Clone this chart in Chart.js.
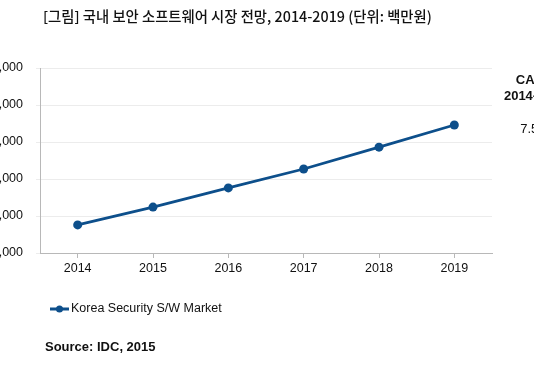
<!DOCTYPE html>
<html>
<head>
<meta charset="utf-8">
<script src="https://cdn.jsdelivr.net/npm/chart.js@4/dist/chart.umd.min.js"></script>
<style>
  html, body { margin: 0; padding: 0; background: #fff; }
  #wrap { width: 534px; height: 376px; position: relative; }
</style>
</head>
<body>
<div id="wrap"><canvas id="chartOne"></canvas></div>
<script>
// data (unit: 백만원)
const years = ["2014", "2015", "2016", "2017", "2018", "2019"];
const marketValues = [576000, 624000, 676000, 727000, 786000, 846000];
const seriesName = "Korea Security S/W Market";
const axisMin = 500000;
const axisMax = 1000000;
const axisStep = 100000;
const titleText = "[그림] 국내 보안 소프트웨어 시장 전망, 2014-2019 (단위: 백만원)";
const cagrLines = ["CAGR", "2014-2019", "7.5%"];
const sourceText = "Source: IDC, 2015";

const blue = "#0d4f8b";
const sans = "'Liberation Sans', Arial, sans-serif";

// title, CAGR box, legend and source line
const extraText = {
  id: "extraText",
  afterDraw(chart) {
    const ctx = chart.ctx;
    ctx.save();
    ctx.fillStyle = "#111";
    ctx.textBaseline = "middle";

    // title stretched to the width it has in the picture
    ctx.font = "500 13px 'Noto Sans CJK KR', sans-serif";
    const w = ctx.measureText(titleText).width;
    const size = Math.min(14.5, 13 * 389 / w);
    ctx.font = "500 " + size.toFixed(2) + "px 'Noto Sans CJK KR', sans-serif";
    ctx.textAlign = "left";
    ctx.fillText(titleText, 43, 17);

    ctx.textAlign = "center";
    ctx.font = "bold 13px " + sans;
    ctx.fillText(cagrLines[0], 535, 80);
    ctx.fillText(cagrLines[1], 535, 96);
    ctx.font = "13px " + sans;
    ctx.fillText(cagrLines[2], 535, 129);

    // legend
    const ds = chart.data.datasets[0];
    ctx.strokeStyle = ds.borderColor;
    ctx.lineWidth = 3;
    ctx.beginPath();
    ctx.moveTo(50, 309);
    ctx.lineTo(69, 309);
    ctx.stroke();
    ctx.fillStyle = ds.backgroundColor;
    ctx.beginPath();
    ctx.arc(59.5, 309, 3.5, 0, Math.PI * 2);
    ctx.fill();
    ctx.fillStyle = "#111";
    ctx.textAlign = "left";
    ctx.font = "12.5px " + sans;
    ctx.fillText(ds.label, 71, 309);

    ctx.font = "bold 13px " + sans;
    ctx.fillText(sourceText, 45, 347);
    ctx.restore();
  }
};

new Chart(document.getElementById("chartOne"), {
  type: "line",
  data: {
    labels: years,
    datasets: [
      {
        label: seriesName,
        data: marketValues,
        borderColor: blue,
        backgroundColor: blue,
        borderWidth: 2.8,
        pointRadius: 4.5,
        pointBorderWidth: 0,
        tension: 0,
      },
    ],
  },
  options: {
    responsive: true,
    maintainAspectRatio: false,
    animation: false,
    layout: { padding: { top: 68, right: 42, bottom: 93, left: 0 } },
    plugins: {
      legend: { display: false },
      tooltip: { enabled: false },
    },
    scales: {
      x: {
        offset: true,
        afterFit(scale) { scale.height = 30; },
        grid: { drawOnChartArea: false, tickLength: 5, color: "#b8b8b8" },
        border: { color: "#b8b8b8" },
        ticks: { color: "#111", padding: 3, font: { family: sans, size: 12.5 } },
      },
      y: {
        min: axisMin,
        max: axisMax,
        afterFit(scale) { scale.width = 40; },
        grid: { color: "#ececec", tickLength: 4 },
        border: { color: "#b8b8b8" },
        ticks: {
          stepSize: axisStep,
          color: "#111",
          padding: 13,
          font: { family: sans, size: 12.5 },
          callback: (v) => v.toLocaleString("en-US"),
        },
      },
    },
  },
  plugins: [extraText],
});
</script>
</body>
</html>
